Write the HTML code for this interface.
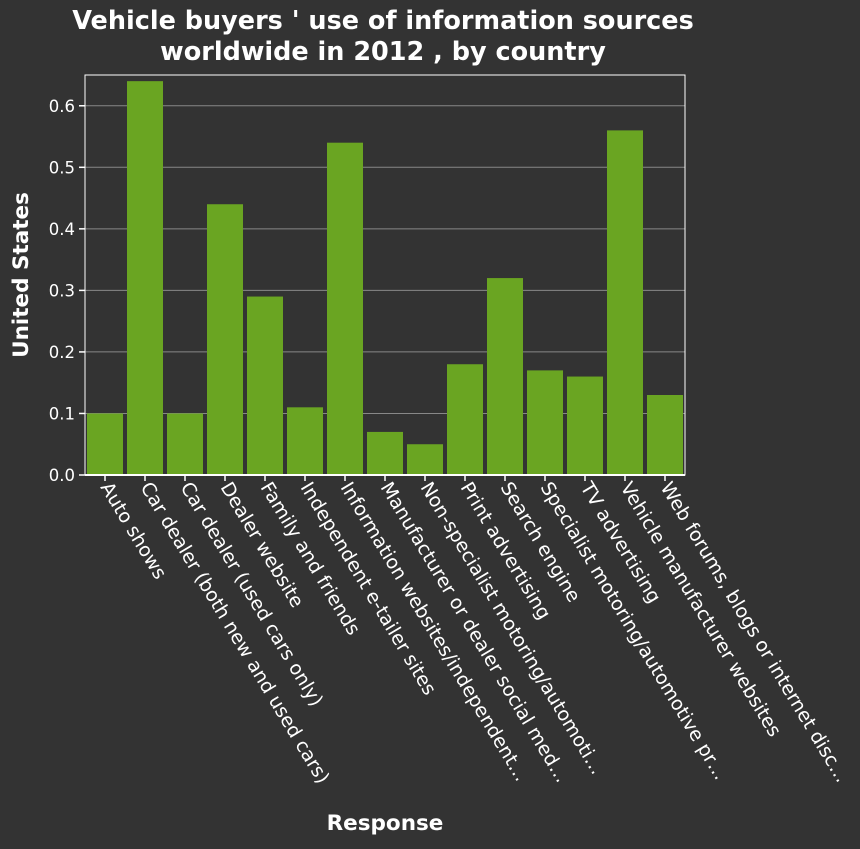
<!DOCTYPE html>
<html><head><meta charset="utf-8"><style>
html,body{margin:0;padding:0;background:#333333;}
svg text{font-family:"DejaVu Sans","Liberation Sans",sans-serif;fill:#fff;}
</style></head><body>
<svg id="chart" width="860" height="844" xmlns="http://www.w3.org/2000/svg">
<rect width="860" height="844" fill="#333333"/>
<text x="383" y="29" text-anchor="middle" font-size="25.5" font-weight="bold">Vehicle buyers ' use of information sources</text>
<text x="383" y="60" text-anchor="middle" font-size="25.5" font-weight="bold">worldwide in 2012 , by country</text>
<text transform="translate(28,275) rotate(-90)" text-anchor="middle" font-size="21.5" font-weight="bold">United States</text>
<text x="385" y="830" text-anchor="middle" font-size="21.5" font-weight="bold">Response</text>
<g id="grid"></g><g id="bars"></g><g id="axes"></g>
</svg>
<script>
const categories=["Auto shows","Car dealer (both new and used cars)","Car dealer (used cars only)","Dealer website","Family and friends","Independent e-tailer sites","Information websites/independent…","Manufacturer or dealer social med…","Non-specialist motoring/automoti…","Print advertising","Search engine","Specialist motoring/automotive pr…","TV advertising","Vehicle manufacturer websites","Web forums, blogs or internet disc…"];
const values=[0.10,0.64,0.10,0.44,0.29,0.11,0.54,0.07,0.05,0.18,0.32,0.17,0.16,0.56,0.13];
const yTicks=[0,0.1,0.2,0.3,0.4,0.5,0.6];
const yTickLabels=["0.0","0.1","0.2","0.3","0.4","0.5","0.6"];
const NS="http://www.w3.org/2000/svg";
const L=85,R=685,T=75,B=475,yMax=0.65;
const y=v=>B-(v/yMax)*(B-T);
const band=(R-L)/categories.length;
const x=i=>L+band*i;
const grid=document.getElementById('grid'),bars=document.getElementById('bars'),axes=document.getElementById('axes');
function mk(tag,attrs,parent){const e=document.createElementNS(NS,tag);for(const k in attrs)e.setAttribute(k,attrs[k]);parent.appendChild(e);return e;}
yTicks.forEach((t,i)=>{
  const g=mk('line',{x1:L,x2:R,y1:y(t),y2:y(t),stroke:'#888','stroke-width':1},grid);
  
  
  const tk=mk('line',{x1:L-6,x2:L,y1:y(t),y2:y(t),stroke:'#fff','stroke-width':1.5},axes);
  
  
  const tx=mk('text',{x:L-10,y:y(t)+6,'text-anchor':'end','font-size':16.5},axes);
  tx.textContent=yTickLabels[i];
  
  
});
values.forEach((v,i)=>{
  const r=mk('rect',{x:x(i)+2,y:y(v),width:band-4,height:B-y(v),fill:'#6aa522'},bars);
  
  
  const cx=x(i)+band/2;
  const tk=mk('line',{x1:cx,x2:cx,y1:B,y2:B+6,stroke:'#fff','stroke-width':1.5},axes);
  
  
  const tx=mk('text',{transform:`translate(${cx-5},${B+12}) rotate(59)`,'font-size':19},axes);
  tx.textContent=categories[i];
  
  
});
const fr=mk('rect',{x:L,y:T,width:R-L,height:B-T,fill:'none',stroke:'#fff','stroke-width':1},axes);


const xa=mk('line',{x1:L,x2:R,y1:B,y2:B,stroke:'#fff','stroke-width':2},axes);


</script>
</body></html>
